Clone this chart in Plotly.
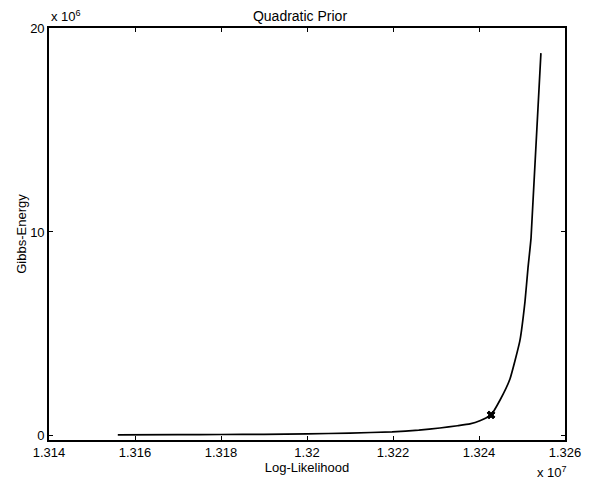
import plotly.graph_objects as go

# Log-Likelihood (x 10^7) and Gibbs-Energy (x 10^6)
loglik = [1.31560, 1.31700, 1.31800, 1.31900, 1.32000, 1.32100, 1.32198, 1.32260,
          1.32309, 1.32350, 1.32379, 1.32402, 1.32428, 1.32449, 1.32472, 1.32495,
          1.32507, 1.32514, 1.32521, 1.32544]
gibbs = [0.05, 0.06, 0.07, 0.08, 0.10, 0.14, 0.20, 0.28,
         0.39, 0.50, 0.59, 0.74, 1.03, 1.76, 2.79, 4.66,
         6.60, 8.25, 9.70, 18.77]

marker_x = [1.32428]
marker_y = [1.03]

x_ticks = [1.314, 1.316, 1.318, 1.32, 1.322, 1.324, 1.326]
x_tick_labels = ["1.314", "1.316", "1.318", "1.32", "1.322", "1.324", "1.326"]
y_ticks = [0, 10, 20]
y_tick_labels = ["0", "10", "20"]

font = "Liberation Sans, Arial, sans-serif"
fs = 13

fig = go.Figure()
fig.add_trace(go.Scatter(x=loglik, y=gibbs, mode="lines",
                         line=dict(color="black", width=1.7, shape="spline", smoothing=0.4),
                         showlegend=False))
fig.add_trace(go.Scatter(x=marker_x, y=marker_y, mode="markers",
                         marker=dict(symbol="x", size=7, color="black",
                                     line=dict(width=1, color="black")),
                         showlegend=False))

axis_common = dict(showline=True, linecolor="black", linewidth=1.6, mirror="ticks",
                   ticks="inside", ticklen=4, tickwidth=1.2, tickcolor="black",
                   showgrid=False, zeroline=False, automargin=False,
                   tickfont=dict(family=font, size=fs, color="black"))

fig.update_xaxes(range=[1.314, 1.326], tickvals=x_ticks, ticktext=x_tick_labels,
                 title=dict(text="Log-Likelihood", font=dict(family=font, size=fs, color="black"),
                            standoff=0),
                 **axis_common)
fig.update_yaxes(range=[-0.2, 20], tickvals=y_ticks, ticktext=y_tick_labels,
                 title=dict(text="Gibbs-Energy", font=dict(family=font, size=fs, color="black"),
                            standoff=1),
                 **axis_common)

# page has an 8px body margin, so the figure is shrunk and offset accordingly
fig.update_layout(
    width=584, height=476,
    margin=dict(l=41, r=27, t=20, b=44, autoexpand=False),
    paper_bgcolor="white", plot_bgcolor="white",
    title=dict(text="Quadratic Prior", x=0.5, xanchor="center", y=0.984, yanchor="middle",
               font=dict(family=font, size=14, color="black"), automargin=False),
    annotations=[
        dict(text="x 10<sup>6</sup>", xref="paper", yref="paper", x=0.0, y=1.0,
             xanchor="left", yanchor="bottom", showarrow=False, yshift=2,
             font=dict(family=font, size=fs, color="black")),
        dict(text="x 10<sup>7</sup>", xref="paper", yref="paper", x=1.0, y=0.0,
             xanchor="right", yanchor="top", showarrow=False, yshift=-22, xshift=4,
             font=dict(family=font, size=fs, color="black")),
    ],
)

fig.write_html("out.html")
